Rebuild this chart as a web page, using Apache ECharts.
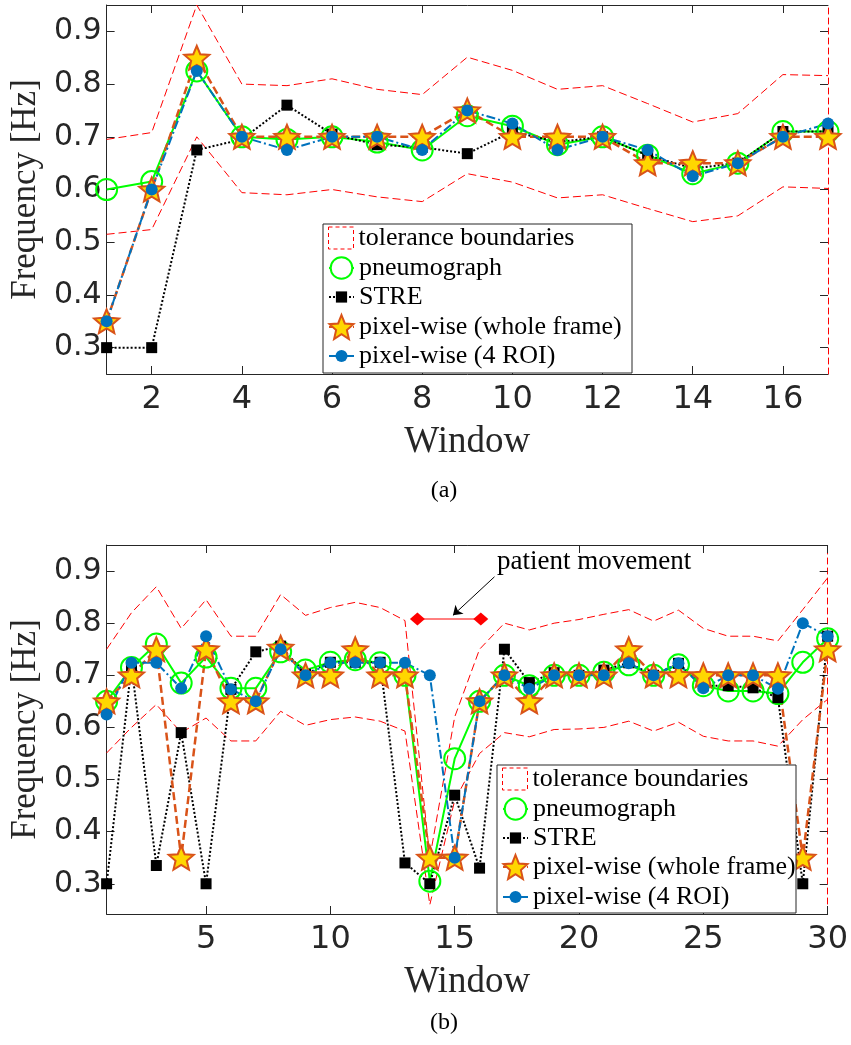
<!DOCTYPE html>
<html>
<head>
<meta charset="utf-8">
<title>Frequency per window</title>
<script src="https://cdn.jsdelivr.net/npm/echarts@6.0.0/dist/echarts.min.js"></script>
<style>
  html, body { margin: 0; padding: 0; background: #fff; }
  #chart { width: 851px; height: 1045px; }
</style>
</head>
<body>
<div id="chart"></div>
<script>
// ---- (a) 17 windows ----
const windowsA = [1, 2, 3, 4, 5, 6, 7, 8, 9, 10, 11, 12, 13, 14, 15, 16, 17];
const upperA = [0.695, 0.708, 0.95, 0.80, 0.797, 0.81, 0.79, 0.78, 0.851, 0.826, 0.79, 0.797, 0.763, 0.728, 0.744, 0.818, 0.816];
const lowerA = [0.515, 0.524, 0.70, 0.594, 0.59, 0.60, 0.586, 0.577, 0.63, 0.614, 0.584, 0.59, 0.564, 0.539, 0.55, 0.605, 0.602];
const pneumoA = [0.60, 0.615, 0.825, 0.70, 0.695, 0.70, 0.69, 0.675, 0.74, 0.72, 0.685, 0.70, 0.665, 0.63, 0.65, 0.71, 0.71];
const streA = [0.30, 0.30, 0.675, 0.695, 0.76, 0.705, 0.685, 0.68, 0.668, 0.71, 0.69, 0.70, 0.665, 0.64, 0.65, 0.71, 0.71];
const wholeA = [0.35, 0.60, 0.85, 0.70, 0.70, 0.70, 0.70, 0.70, 0.75, 0.70, 0.70, 0.70, 0.65, 0.65, 0.65, 0.70, 0.70];
const roiA = [0.35, 0.60, 0.825, 0.70, 0.675, 0.70, 0.70, 0.675, 0.75, 0.725, 0.675, 0.70, 0.675, 0.625, 0.65, 0.70, 0.725];
const xTicksA = [2, 4, 6, 8, 10, 12, 14, 16];

// ---- (b) 30 windows ----
const windowsB = [1, 2, 3, 4, 5, 6, 7, 8, 9, 10, 11, 12, 13, 14, 15, 16, 17, 18, 19, 20, 21, 22, 23, 24, 25, 26, 27, 28, 29, 30];
const upperB = [0.75, 0.82, 0.87, 0.79, 0.845, 0.775, 0.775, 0.855, 0.815, 0.83, 0.84, 0.83, 0.805, 0.35, 0.62, 0.75, 0.80, 0.787, 0.80, 0.807, 0.817, 0.826, 0.804, 0.825, 0.79, 0.775, 0.775, 0.766, 0.826, 0.887];
const lowerB = [0.551, 0.60, 0.644, 0.59, 0.618, 0.574, 0.574, 0.631, 0.604, 0.615, 0.62, 0.612, 0.593, 0.26, 0.46, 0.55, 0.59, 0.582, 0.596, 0.597, 0.60, 0.612, 0.593, 0.61, 0.583, 0.574, 0.574, 0.564, 0.615, 0.654];
const pneumoB = [0.65, 0.715, 0.76, 0.685, 0.735, 0.675, 0.675, 0.745, 0.71, 0.725, 0.73, 0.724, 0.70, 0.305, 0.54, 0.65, 0.70, 0.68, 0.70, 0.70, 0.706, 0.72, 0.70, 0.72, 0.68, 0.67, 0.67, 0.665, 0.725, 0.77];
const streB = [0.30, 0.718, 0.335, 0.59, 0.30, 0.673, 0.745, 0.756, 0.702, 0.725, 0.725, 0.725, 0.34, 0.30, 0.47, 0.33, 0.75, 0.686, 0.705, 0.70, 0.71, 0.724, 0.70, 0.723, 0.68, 0.68, 0.676, 0.657, 0.30, 0.775];
const wholeB = [0.65, 0.70, 0.75, 0.35, 0.75, 0.65, 0.65, 0.753, 0.70, 0.70, 0.75, 0.70, 0.70, 0.35, 0.35, 0.65, 0.70, 0.65, 0.70, 0.70, 0.70, 0.75, 0.70, 0.70, 0.70, 0.70, 0.70, 0.70, 0.35, 0.75];
const roiB = [0.625, 0.724, 0.724, 0.675, 0.775, 0.673, 0.65, 0.75, 0.70, 0.724, 0.724, 0.724, 0.724, 0.70, 0.35, 0.65, 0.70, 0.674, 0.70, 0.70, 0.70, 0.723, 0.70, 0.723, 0.675, 0.70, 0.70, 0.674, 0.80, 0.775];
const xTicksB = [5, 10, 15, 20, 25, 30];

// patient movement marker + arrow (window, Hz)
const movementX = [13.5, 16.05];
const movementY = [0.808, 0.808];
const arrowX = [16.6, 14.93];
const arrowY = [0.889, 0.815];

const yTicks = [0.3, 0.4, 0.5, 0.6, 0.7, 0.8, 0.9];

const AXIS = '#262626';
const SERIF = 'Liberation Serif';
const SANS = 'DejaVu Sans';

// matlab-like pentagram
function starPath(inner) {
    const pts = [];
    for (let i = 0; i < 10; i++) {
        const r = i % 2 === 0 ? 1 : inner;
        const a = -Math.PI / 2 + i * Math.PI / 5;
        pts.push((r * Math.cos(a)).toFixed(4) + ',' + (r * Math.sin(a)).toFixed(4));
    }
    return 'path://M' + pts.join(' L') + ' Z';
}
const STAR = starPath(0.45);

function pairs(xs, ys) {
    return xs.map((x, i) => [x, ys[i]]);
}

function xAxes(gridIndex, max, ticks, withName) {
    return [
        {
            gridIndex, type: 'value', min: 1, max, position: 'bottom',
            axisLine: {onZero: false, lineStyle: {color: AXIS, width: 1}},
            axisTick: {inside: true, length: 8, customValues: ticks, lineStyle: {color: AXIS}},
            axisLabel: {customValues: ticks, fontFamily: SANS, fontSize: 32, color: AXIS, margin: 10},
            splitLine: {show: false},
            name: withName ? 'Window' : '', nameLocation: 'middle', nameGap: 50,
            nameTextStyle: {fontFamily: SERIF, fontSize: 37, color: AXIS}
        },
        {
            gridIndex, type: 'value', min: 1, max, position: 'top',
            axisLine: {onZero: false, lineStyle: {color: AXIS, width: 1}},
            axisTick: {inside: true, length: 8, customValues: ticks, lineStyle: {color: AXIS}},
            axisLabel: {show: false},
            splitLine: {show: false}
        }
    ];
}

function yAxes(gridIndex, min, max) {
    return [
        {
            gridIndex, type: 'value', min, max, position: 'left',
            axisLine: {show: true, lineStyle: {color: AXIS, width: 1}},
            axisTick: {show: true, inside: true, length: 8, customValues: yTicks, lineStyle: {color: AXIS}},
            axisLabel: {customValues: yTicks, fontFamily: SANS, fontSize: 30, color: AXIS, margin: 5,
                formatter: v => v.toFixed(1)},
            splitLine: {show: false},
            name: 'Frequency [Hz]', nameLocation: 'middle', nameGap: 58,
            nameTextStyle: {fontFamily: SERIF, fontSize: 35, color: AXIS}
        },
        {
            gridIndex, type: 'value', min, max, position: 'right',
            axisLine: {show: true, lineStyle: {color: '#ff0000', width: 1, type: [6, 4]}},
            axisTick: {show: true, inside: true, length: 8, customValues: yTicks, lineStyle: {color: AXIS}},
            axisLabel: {show: false},
            splitLine: {show: false}
        }
    ];
}

function panelSeries(axisIndex, xs, upper, lower, pneumo, stre, whole, roi) {
    const base = {type: 'line', xAxisIndex: axisIndex, yAxisIndex: axisIndex, animation: false, emphasis: {disabled: true}};
    return [
        Object.assign({}, base, {
            name: 'tolerance boundaries', data: pairs(xs, upper), symbol: 'none',
            itemStyle: {color: '#ff0000'},
            lineStyle: {color: '#ff0000', width: 1, type: [8, 4]}
        }),
        Object.assign({}, base, {
            name: 'tolerance lower', data: pairs(xs, lower), symbol: 'none',
            itemStyle: {color: '#ff0000'},
            lineStyle: {color: '#ff0000', width: 1, type: [8, 4]}
        }),
        Object.assign({}, base, {
            name: 'pneumograph', data: pairs(xs, pneumo), symbol: 'circle', symbolSize: 21,
            itemStyle: {color: 'rgba(0,0,0,0)', borderColor: '#00ff00', borderWidth: 2},
            lineStyle: {color: '#00ff00', width: 2}
        }),
        Object.assign({}, base, {
            name: 'STRE', data: pairs(xs, stre), symbol: 'rect', symbolSize: 11,
            itemStyle: {color: '#000'},
            lineStyle: {color: '#000', width: 2, type: [2, 2]}
        }),
        Object.assign({}, base, {
            name: 'pixel-wise (whole frame)', data: pairs(xs, whole), symbol: STAR, symbolSize: 25,
            symbolKeepAspect: true,
            itemStyle: {color: '#ffd700', borderColor: '#d95319', borderWidth: 2},
            lineStyle: {color: '#d95319', width: 2.5, type: [8, 4]}
        }),
        Object.assign({}, base, {
            name: 'pixel-wise (4 ROI)', data: pairs(xs, roi), symbol: 'circle', symbolSize: 12,
            itemStyle: {color: '#0072bd'},
            lineStyle: {color: '#0072bd', width: 2, type: [9, 3, 2, 3]}
        })
    ];
}

// one legend per entry so each icon keeps its own marker size
function legendEntry(name, left, centerY, itemHeight, extra) {
    return Object.assign({
        data: [name], left, top: centerY - 15, itemWidth: 25, itemHeight,
        padding: 0, selectedMode: false, z: 60,
        textStyle: {fontFamily: SERIF, fontSize: 26, color: '#000', lineHeight: 30}
    }, extra || {});
}

function legendBlock(left, rows) {
    return [
        legendEntry('tolerance boundaries', left, rows[0], 22, {
            icon: 'rect',
            itemStyle: {color: 'rgba(0,0,0,0)', borderColor: '#ff0000', borderWidth: 1, borderType: [4, 3]}
        }),
        legendEntry('pneumograph', left, rows[1], 27, {itemStyle: {color: '#fff'}}),
        legendEntry('STRE', left, rows[2], 14),
        legendEntry('pixel-wise (whole frame)', left, rows[3], 30),
        legendEntry('pixel-wise (4 ROI)', left, rows[4], 15)
    ];
}

const chart = echarts.init(document.getElementById('chart'), null, {renderer: 'canvas'});

const option = {
    backgroundColor: '#fff',
    animation: false,
    grid: [
        {left: 103, top: 5, width: 725, height: 369},
        {left: 103, top: 545, width: 725, height: 369}
    ],
    xAxis: [].concat(xAxes(0, 17, xTicksA, true), xAxes(1, 30, xTicksB, true)),
    yAxis: [].concat(yAxes(0, 0.25, 0.95), yAxes(1, 0.242, 0.95)),
    legend: [].concat(
        legendBlock(328, [238, 268, 297, 327, 356]),
        legendBlock(502, [779, 809, 838, 867, 897])
    ),
    graphic: [
        {type: 'rect', z: 50, silent: true, shape: {x: 323, y: 224, width: 309, height: 149},
            style: {fill: '#fff', stroke: AXIS, lineWidth: 1}},
        {type: 'rect', z: 50, silent: true, shape: {x: 497, y: 765, width: 299, height: 148},
            style: {fill: '#fff', stroke: AXIS, lineWidth: 1}},
        {type: 'text', z: 50, silent: true,
            style: {text: 'patient movement', x: 497, y: 562, verticalAlign: 'middle',
                font: '27px "Liberation Serif"', fill: '#000'}},
        {type: 'text', z: 50, silent: true,
            style: {text: '(a)', x: 444, y: 491, align: 'center', verticalAlign: 'middle',
                font: '24px "Liberation Serif"', fill: '#000'}},
        {type: 'text', z: 50, silent: true,
            style: {text: '(b)', x: 444, y: 1023, align: 'center', verticalAlign: 'middle',
                font: '24px "Liberation Serif"', fill: '#000'}}
    ],
    series: [].concat(
        panelSeries(0, windowsA, upperA, lowerA, pneumoA, streA, wholeA, roiA),
        panelSeries(2, windowsB, upperB, lowerB, pneumoB, streB, wholeB, roiB),
        [{
            name: 'patient movement', type: 'line', xAxisIndex: 2, yAxisIndex: 2,
            data: pairs(movementX, movementY), symbol: 'diamond', symbolSize: [15, 13],
            itemStyle: {color: '#ff0000'}, lineStyle: {color: '#ff0000', width: 1},
            emphasis: {disabled: true}, animation: false,
            markLine: {
                silent: true, animation: false,
                symbol: ['none', 'arrow'], symbolSize: 9,
                lineStyle: {color: '#000', width: 1, type: 'solid'},
                label: {show: false},
                data: [[{coord: [arrowX[0], arrowY[0]]}, {coord: [arrowX[1], arrowY[1]]}]]
            }
        }]
    )
};

chart.setOption(option);
</script>
</body>
</html>
